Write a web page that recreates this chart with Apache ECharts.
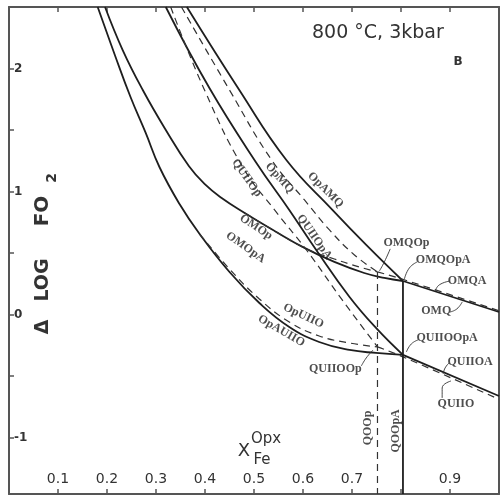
<!DOCTYPE html>
<html>
<head>
<meta charset="utf-8">
<script src="https://cdn.jsdelivr.net/npm/echarts@6/dist/echarts.min.js"></script>
<style>
  html, body { margin: 0; padding: 0; background: #fff; }
  #main { width: 502px; height: 499px; }
</style>
</head>
<body>
<div id="main"></div>
<script>
// x = X_Fe(Opx), y = delta log fO2
const xTickLabels = ['0.1', '0.2', '0.3', '0.4', '0.5', '0.6', '0.7', '0.9']
const yTickLabels = [-1, 0, 1, 2]
const yTicks = [-1, -0.5, 0, 0.5, 1, 1.5, 2]

// solid = with amphibole, dashed = without
const opAUIIO = [[0.181, 2.50], [0.216, 2.110], [0.248, 1.768], [0.279, 1.476], [0.307, 1.199], [0.348, 0.898], [0.389, 0.654], [0.450, 0.345], [0.511, 0.093], [0.572, -0.102], [0.633, -0.224], [0.695, -0.289], [0.749, -0.313], [0.804, -0.329]]
const opUIIO = [[0.389, 0.654], [0.450, 0.370], [0.511, 0.126], [0.572, -0.061], [0.633, -0.175], [0.695, -0.232], [0.752, -0.264]]
const omOpA = [[0.196, 2.50], [0.232, 2.150], [0.273, 1.825], [0.320, 1.500], [0.367, 1.207], [0.399, 1.061], [0.434, 0.947], [0.481, 0.825], [0.542, 0.679], [0.603, 0.541], [0.664, 0.427], [0.725, 0.337], [0.766, 0.297], [0.804, 0.272]]
const omOp = [[0.481, 0.825], [0.542, 0.679], [0.603, 0.541], [0.664, 0.451], [0.715, 0.386], [0.752, 0.346]]
const opAMQ = [[0.363, 2.50], [0.470, 1.825], [0.566, 1.256], [0.660, 0.850], [0.729, 0.565], [0.804, 0.272]]
const opMQ = [[0.352, 2.50], [0.450, 1.825], [0.536, 1.256], [0.603, 0.931], [0.654, 0.687], [0.705, 0.484], [0.752, 0.346]]
const quiiOpA = [[0.320, 2.50], [0.409, 1.841], [0.505, 1.232], [0.572, 0.850], [0.627, 0.524], [0.695, 0.142], [0.749, -0.110], [0.804, -0.329]]
const quiiOp = [[0.330, 2.50], [0.399, 1.825], [0.477, 1.199], [0.542, 0.850], [0.607, 0.524], [0.680, 0.118], [0.752, -0.264]]
const omQA = [[0.804, 0.272], [1.0, 0.02]]
const omQ = [[0.752, 0.346], [0.804, 0.285], [1.0, 0.03]]
const quiiOA = [[0.804, -0.329], [1.0, -0.663]]
const quiiO = [[0.752, -0.264], [0.804, -0.345], [1.0, -0.69]]
const qOOpA = [[0.804, 0.272], [0.804, -1.46]]
const qOOp = [[0.752, 0.346], [0.752, -1.46]]

// curve names: [x, y, rotation]
const curveLabels = [
  ['QUIIOp', 0.485, 1.110, -55],
  ['OpMQ', 0.552, 1.110, -48],
  ['OpAMQ', 0.646, 1.012, -45],
  ['QUIIOpA', 0.623, 0.630, -55],
  ['OMOp', 0.504, 0.710, -33],
  ['OMOpA', 0.483, 0.545, -35],
  ['OpUIIO', 0.601, -0.012, -25],
  ['OpAUIIO', 0.556, -0.134, -30],
  ['QUIIOOp', 0.666, -0.443, 0],
  ['OMQOp', 0.811, 0.581, 0],
  ['OMQOpA', 0.886, 0.443, 0],
  ['OMQA', 0.935, 0.272, 0],
  ['OMQ', 0.872, 0.028, 0],
  ['QUIIOOpA', 0.894, -0.191, 0],
  ['QUIIOA', 0.941, -0.386, 0],
  ['QUIIO', 0.912, -0.728, 0],
  ['QOOp', 0.733, -0.923, 90],
  ['QOOpA', 0.790, -0.947, 90]
]
const leaders = [
  [[0.719, -0.419], [0.729, -0.354], [0.743, -0.289]],
  [[0.778, 0.533], [0.766, 0.427], [0.756, 0.354]],
  [[0.833, 0.427], [0.817, 0.378], [0.807, 0.289]],
  [[0.900, 0.272], [0.878, 0.240], [0.870, 0.191]],
  [[0.900, 0.020], [0.914, 0.045], [0.925, 0.102]],
  [[0.835, -0.207], [0.821, -0.240], [0.811, -0.305]],
  [[0.898, -0.395], [0.890, -0.435], [0.886, -0.484]],
  [[0.884, -0.679], [0.884, -0.598], [0.902, -0.541]]
]

const ink = '#1e1e1e'
function solid (data) {
  return { type: 'line', data: data, symbol: 'none', smooth: 0.45, silent: true,
    lineStyle: { color: ink, width: 1.8 } }
}
function dashed (data) {
  return { type: 'line', data: data, symbol: 'none', smooth: 0.45, silent: true,
    lineStyle: { color: '#333', width: 1.2, type: [7, 5] } }
}

const series = [
  solid(opAUIIO), dashed(opUIIO),
  solid(omOpA), dashed(omOp),
  solid(opAMQ), dashed(opMQ),
  solid(quiiOpA), dashed(quiiOp),
  solid(omQA), dashed(omQ),
  solid(quiiOA), dashed(quiiO),
  { type: 'line', data: qOOpA, symbol: 'none', lineStyle: { color: ink, width: 1.8 } },
  { type: 'line', data: qOOp, symbol: 'none', lineStyle: { color: '#333', width: 1.2, type: [7, 5] } }
]
leaders.forEach(function (l) {
  series.push({ type: 'line', data: l, symbol: 'none', smooth: 0.5, lineStyle: { color: '#333', width: 0.9 } })
})
series.push({
  type: 'scatter',
  symbolSize: 1,
  itemStyle: { color: 'rgba(0,0,0,0)' },
  data: curveLabels.map(function (c) {
    return { name: c[0], value: [c[1], c[2]], label: { rotate: c[3] } }
  }),
  label: {
    show: true,
    position: 'inside',
    formatter: '{b}',
    fontFamily: 'Liberation Serif',
    fontWeight: 'bold',
    fontSize: 12,
    color: '#222'
  }
})

const frame = { onZero: false, lineStyle: { color: '#555', width: 2 } }
const tick = { inside: true, length: 5, lineStyle: { color: '#555', width: 1.5 } }

const chart = echarts.init(document.getElementById('main'))
chart.setOption({
  animation: false,
  backgroundColor: '#fff',
  grid: { left: 9, right: 2, top: 7, bottom: 5 },
  xAxis: [
    {
      type: 'value', min: 0, max: 1, interval: 0.1, position: 'bottom',
      axisLine: frame,
      axisTick: tick,
      axisLabel: {
        inside: true, margin: 8, fontFamily: 'DejaVu Sans', fontSize: 14, color: '#333',
        formatter: function (v) {
          const s = v.toFixed(1)
          return xTickLabels.indexOf(s) >= 0 ? s : ''
        }
      },
      splitLine: { show: false }
    },
    {
      type: 'value', min: 0, max: 1, interval: 0.1, position: 'top',
      axisLine: frame,
      axisTick: tick,
      axisLabel: { show: false },
      splitLine: { show: false }
    }
  ],
  yAxis: [
    {
      type: 'value', min: -1.46, max: 2.5, position: 'left',
      axisLine: frame,
      axisTick: Object.assign({ customValues: yTicks }, tick),
      axisLabel: {
        inside: true, margin: 5, customValues: yTickLabels,
        fontFamily: 'DejaVu Sans', fontWeight: 'bold', fontSize: 12, color: '#333'
      },
      splitLine: { show: false }
    },
    {
      type: 'value', min: -1.46, max: 2.5, position: 'right',
      axisLine: Object.assign({ show: true }, frame),
      axisTick: { show: false },
      axisLabel: { show: false },
      splitLine: { show: false }
    }
  ],
  graphic: [
    { type: 'text', x: 312, y: 33, style: { text: '800 °C, 3kbar', font: '19px "DejaVu Sans"', fill: '#333', verticalAlign: 'middle' } },
    { type: 'text', x: 458, y: 62, style: { text: 'B', font: 'bold 12px "DejaVu Sans"', fill: '#333', align: 'center', verticalAlign: 'middle' } },
    { type: 'text', x: 43, y: 327, rotation: Math.PI / 2, style: { text: 'Δ', font: 'bold 19px "DejaVu Sans"', fill: '#333', align: 'center', verticalAlign: 'middle' } },
    { type: 'text', x: 43, y: 280, rotation: Math.PI / 2, style: { text: 'LOG', font: 'bold 19px "DejaVu Sans"', fill: '#333', align: 'center', verticalAlign: 'middle' } },
    { type: 'text', x: 43, y: 211, rotation: Math.PI / 2, style: { text: 'FO', font: 'bold 20px "DejaVu Sans"', fill: '#333', align: 'center', verticalAlign: 'middle' } },
    { type: 'text', x: 52, y: 178, rotation: Math.PI / 2, style: { text: '2', font: 'bold 14px "DejaVu Sans"', fill: '#333', align: 'center', verticalAlign: 'middle' } },
    { type: 'text', x: 244, y: 451, style: { text: 'X', font: '18px "DejaVu Sans"', fill: '#333', align: 'center', verticalAlign: 'middle' } },
    { type: 'text', x: 266, y: 439, style: { text: 'Opx', font: '15px "DejaVu Sans"', fill: '#333', align: 'center', verticalAlign: 'middle' } },
    { type: 'text', x: 262, y: 460, style: { text: 'Fe', font: '15px "DejaVu Sans"', fill: '#333', align: 'center', verticalAlign: 'middle' } }
  ],
  series: series
})
</script>
</body>
</html>
